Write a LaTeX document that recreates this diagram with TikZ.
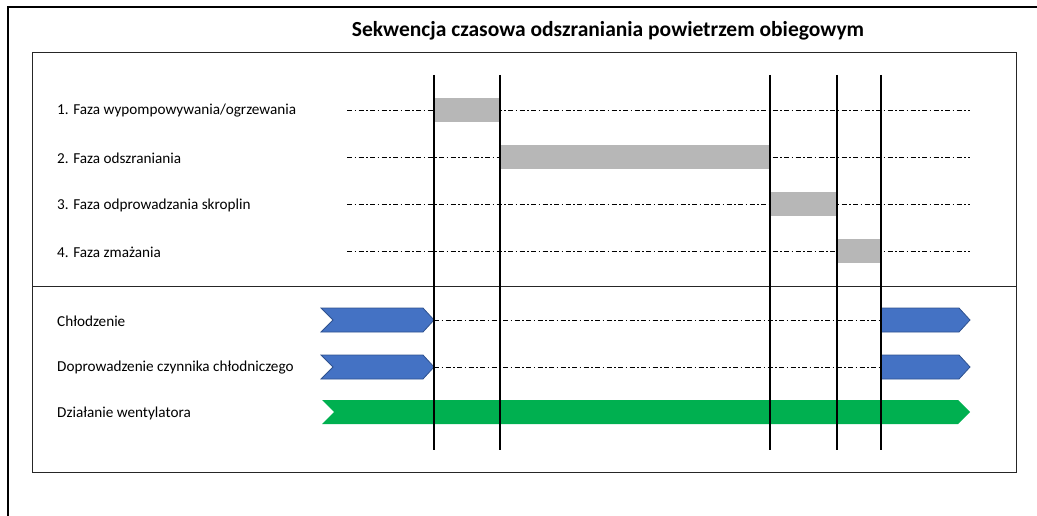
\documentclass[tikz,border=0pt]{standalone}
\usepackage{fontspec}
\setmainfont{Carlito}
\usetikzlibrary{positioning,calc}
\definecolor{barGray}{HTML}{B7B7B7}
\definecolor{chevBlue}{HTML}{4472C4}
\definecolor{chevEdge}{HTML}{2F528F}
\definecolor{fanGreen}{HTML}{00B050}

\begin{document}
\begin{tikzpicture}[x=1pt,y=-1pt,font=\fontsize{15.2}{17}\selectfont,
  phase/.style={anchor=west,inner sep=0pt},
  bar/.style={fill=barGray,draw=none,minimum height=24pt,inner sep=0pt,outer sep=0pt,anchor=west},
  track/.style={dash pattern=on 5pt off 2.5pt on 1.5pt off 2.5pt,line width=0.7pt},
  tick/.style={line width=1.8pt},
  chev/.style={fill=chevBlue,draw=chevEdge,line width=0.8pt,line join=miter}]
\useasboundingbox (0,0) rectangle (1037,516);
% frames
\draw[line width=2.5pt] (8,516) -- (8,7) -- (1037,7);
\draw[black!85,line width=1pt] (32,53) rectangle (1016,472);
\draw[black!85,line width=1pt] (32,286) -- (1016,286);
\node[font=\fontsize{21.5}{24}\selectfont\bfseries] (title) at (608,31) {Sekwencja czasowa odszraniania powietrzem obiegowym};
% phases
\node[phase] (p1) at (57,111) {1. Faza wypompowywania/ogrzewania};
\node[phase] (p2) at (57,158) {2. Faza odszraniania};
\node[phase] (p3) at (57,205) {3. Faza odprowadzania skroplin};
\node[phase] (p4) at (57,252) {4. Faza zmażania};
\foreach \y/\n in {110/1,157/2,204/3,251/4}{
  \coordinate (ls\n) at (347,\y);
  \coordinate (le\n) at (970,\y);
  \draw[track] (ls\n) -- (le\n);
}
\node[bar,minimum width=66pt]  (b1) at (434,110) {};
\node[bar,minimum width=270pt] (b2) at (500,157) {};
\node[bar,minimum width=67pt]  (b3) at (770,204) {};
\node[bar,minimum width=44pt]  (b4) at (837,251) {};
% operations
\node[phase] (o1) at (57,321) {Chłodzenie};
\node[phase] (o2) at (57,368) {Doprowadzenie czynnika chłodniczego};
\node[phase] (o3) at (57,413) {Działanie wentylatora};
\draw[track] (434,320) -- (881,320);
\draw[track] (434,367) -- (881,367);
\draw[chev] (321,308) -- (423,308) -- (434,320) -- (423,332) -- (321,332) -- (333,320) -- cycle;
\draw[chev] (881,308) -- (959,308) -- (970,320) -- (959,332) -- (881,332) -- cycle;
\draw[chev] (321,355) -- (423,355) -- (434,367) -- (423,379) -- (321,379) -- (333,367) -- cycle;
\draw[chev] (881,355) -- (959,355) -- (970,367) -- (959,379) -- (881,379) -- cycle;
\fill[fanGreen] (322,400) -- (958,400) -- (970,412) -- (958,424) -- (322,424) -- (334,412) -- cycle;
% time marks
\foreach \x/\n in {434/1,500/2,770/3,837/4,881/5}{
  \coordinate (tt\n) at (\x,75);
  \coordinate (tb\n) at (\x,450);
  \draw[tick] (tt\n) -- (tb\n);
}
\end{tikzpicture}
\end{document}
